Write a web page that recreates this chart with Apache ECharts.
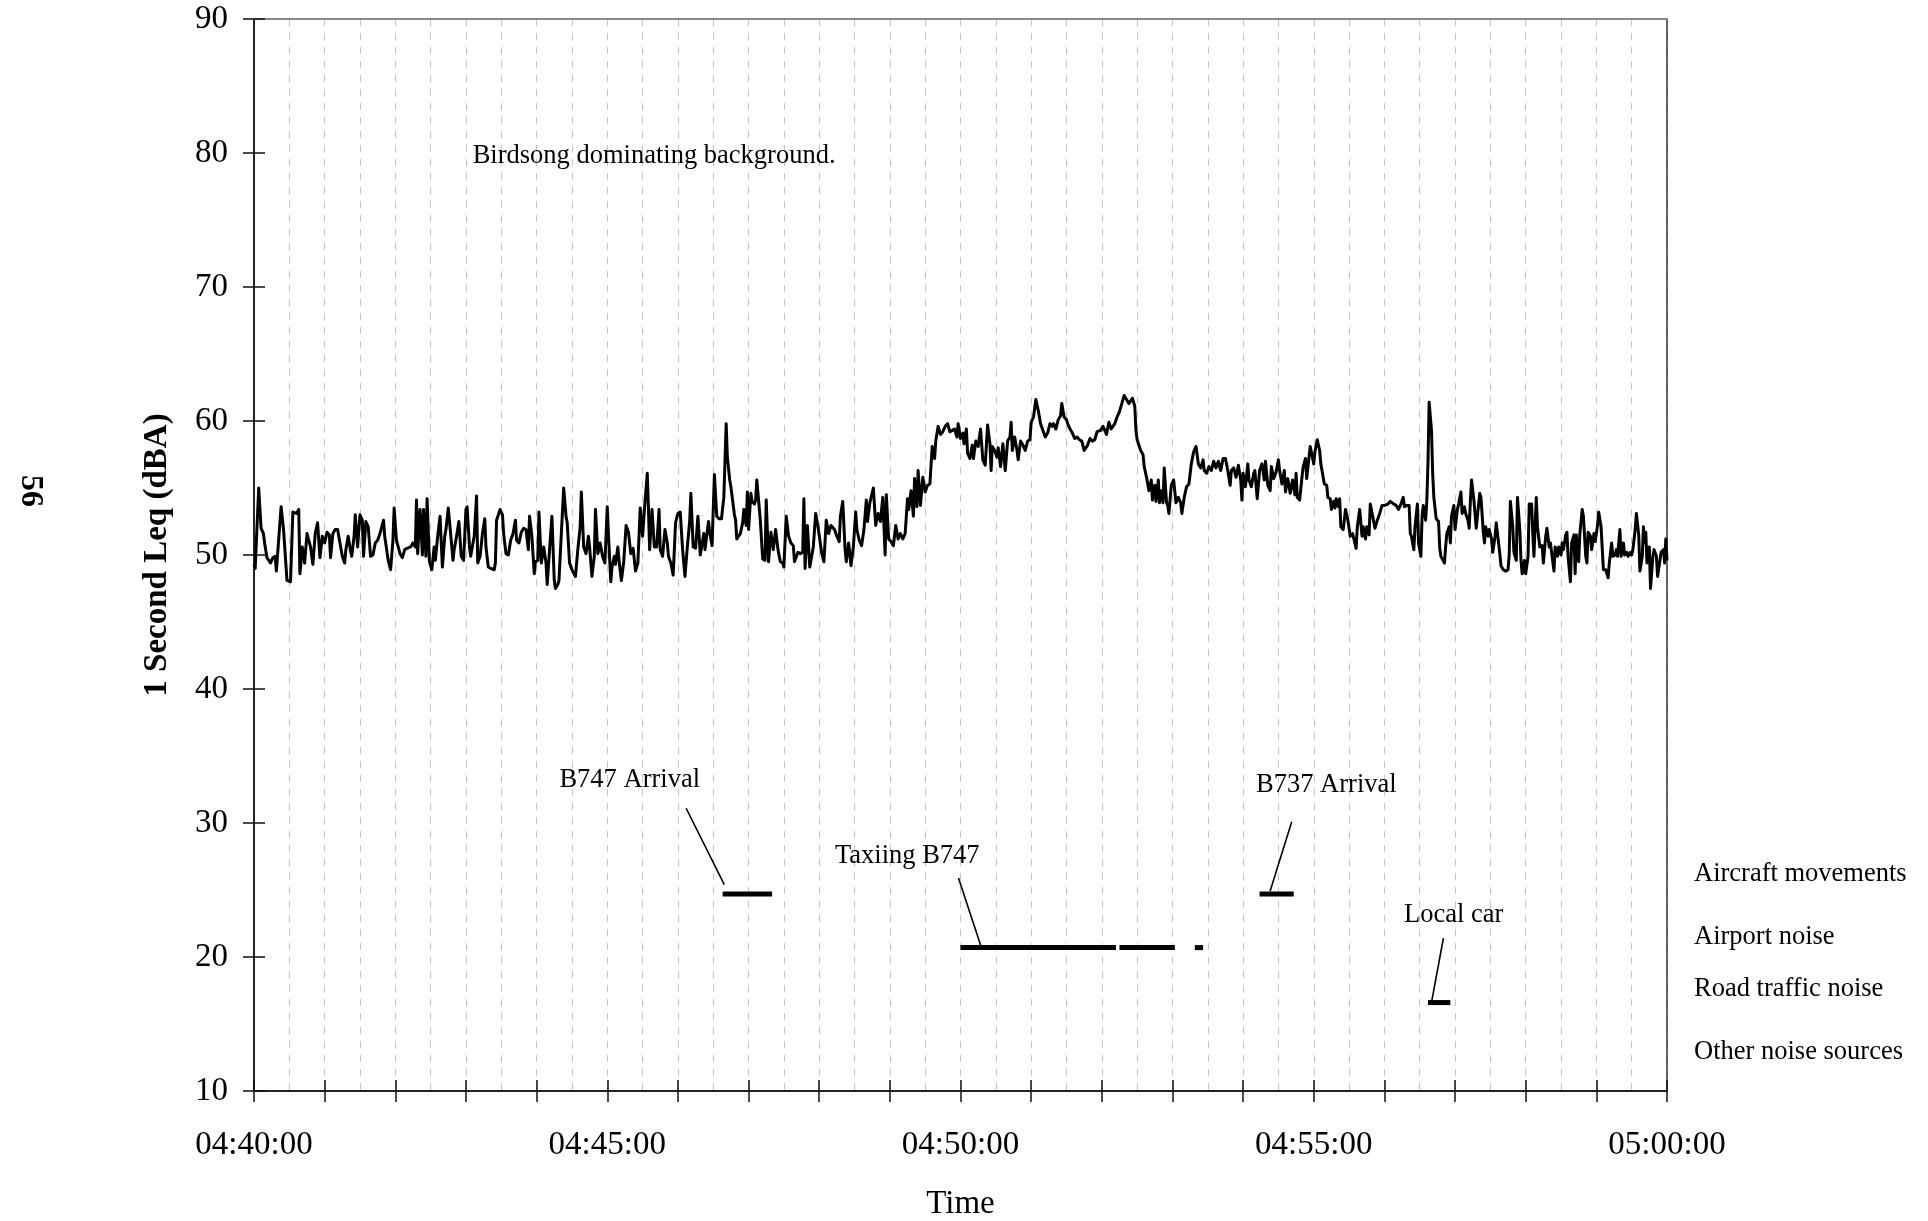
<!DOCTYPE html>
<html>
<head>
<meta charset="utf-8">
<title>1 Second Leq, 04:40 - 05:00</title>
<script src="https://cdn.jsdelivr.net/npm/echarts@6/dist/echarts.min.js"></script>
<style>
  html, body { margin: 0; padding: 0; background: #ffffff; }
  #chart { width: 1928px; height: 1221px; }
</style>
</head>
<body>
<div id="chart"></div>
<script>
// Time axis labels, one every five minutes (values are seconds after 04:40:00)
const timeLabels = ['04:40:00', '04:45:00', '04:50:00', '04:55:00', '05:00:00'];
const labelStep = 300;
const yTicks = [10, 20, 30, 40, 50, 60, 70, 80, 90];

// 1 second Leq, [seconds after 04:40:00, dBA]
const leqSamples = [
  [0,49.3],[1,49.0],[4,55.0],[6,52.0],[8,51.6],[9,50.9],[11,49.8],[14,49.4],[16,49.8],[18,49.9],
  [19,48.8],[23,53.6],[25,52.0],[28,48.1],[31,48.0],[33,53.2],[36,53.1],[38,53.4],[39,48.6],[41,50.6],
  [43,49.4],[45,51.6],[46,51.7],[48,50.6],[50,49.3],[52,51.6],[54,52.4],[56,49.8],[58,51.4],[60,50.9],
  [62,51.7],[64,51.5],[65,49.8],[67,51.6],[69,51.9],[71,51.9],[73,50.9],[75,49.9],[77,49.4],[78,50.4],
  [80,51.4],[82,50.3],[83,49.9],[85,51.4],[86,53.0],[88,50.6],[90,53.0],[92,52.6],[93,49.9],[95,52.5],
  [97,52.1],[99,49.9],[101,50.0],[103,50.9],[105,51.1],[107,51.6],[110,52.6],[111,51.4],[114,49.6],[116,48.9],
  [118,51.1],[119,53.5],[121,51.1],[124,50.1],[126,49.8],[128,50.4],[130,50.5],[133,50.6],[135,50.9],[137,50.6],
  [138,54.1],[139,50.1],[141,53.4],[143,50.0],[144,53.4],[146,49.9],[147,54.2],[149,49.5],[151,48.9],[153,50.6],
  [154,49.6],[156,51.4],[158,52.9],[160,49.1],[162,51.4],[163,51.9],[165,53.5],[167,51.6],[169,49.6],[170,50.4],
  [172,51.4],[174,52.5],[176,49.9],[178,49.6],[180,53.4],[181,53.6],[183,50.6],[184,49.9],[187,51.4],[189,54.4],
  [190,49.4],[192,49.9],[194,51.6],[196,52.7],[197,50.6],[199,49.1],[201,49.0],[204,48.9],[205,49.4],[206,52.6],
  [209,53.4],[211,53.0],[212,51.6],[214,50.1],[216,50.0],[218,51.1],[220,51.6],[222,52.6],[223,51.1],[225,50.9],
  [227,51.7],[229,52.0],[231,51.9],[233,50.4],[234,52.9],[236,51.4],[238,48.6],[239,49.5],[241,49.6],[242,53.2],
  [244,49.4],[246,50.6],[248,49.4],[249,47.8],[251,50.4],[253,52.9],[255,48.1],[256,47.5],[258,47.8],[259,48.1],
  [261,51.6],[263,55.0],[265,52.9],[266,52.4],[268,49.4],[270,48.9],[273,48.4],[275,50.4],[277,52.1],[278,54.7],
  [280,50.6],[282,50.1],[284,51.4],[285,50.6],[287,48.4],[289,49.9],[290,53.4],[292,50.1],[294,50.9],[296,49.9],
  [298,49.4],[300,53.6],[301,51.6],[303,48.0],[304,49.1],[306,49.9],[307,49.3],[309,50.6],[310,49.6],[312,48.1],
  [314,49.5],[316,52.2],[318,51.7],[320,50.1],[322,50.5],[324,48.8],[326,49.4],[328,53.5],[330,51.4],[332,53.9],
  [334,56.1],[335,53.4],[336,50.4],[338,53.4],[340,50.6],[342,50.6],[344,53.4],[345,50.4],[347,49.9],[349,51.9],
  [351,50.9],[352,49.9],[354,49.4],[356,48.5],[358,52.4],[360,53.1],[362,53.2],[364,50.4],[366,48.4],[368,50.6],
  [370,52.5],[371,54.6],[373,50.6],[375,50.5],[377,52.9],[379,50.0],[382,51.6],[383,50.4],[386,52.5],[387,51.7],
  [389,50.7],[391,56.0],[393,52.9],[395,52.7],[397,52.7],[399,54.3],[401,59.8],[402,57.3],[404,55.6],[405,55.1],
  [408,53.0],[409,52.6],[410,51.2],[413,51.6],[415,52.4],[416,53.4],[418,52.2],[419,54.7],[420,51.9],[422,54.6],
  [423,54.0],[425,53.8],[426,54.1],[427,55.6],[430,52.6],[432,49.7],[434,49.6],[435,54.1],[437,49.5],[439,51.7],
  [441,50.4],[443,51.9],[445,50.4],[447,49.5],[449,49.4],[450,49.1],[452,52.9],[454,51.4],[456,50.9],[458,50.7],
  [459,49.5],[462,50.2],[464,50.1],[466,50.2],[467,54.2],[468,49.0],[470,52.2],[472,49.1],[473,49.1],[475,50.6],
  [477,53.1],[479,52.1],[480,52.0],[482,50.2],[484,49.5],[486,52.6],[488,51.6],[490,52.2],[493,51.9],[495,51.4],
  [497,51.0],[498,52.9],[500,54.0],[502,50.4],[503,49.5],[505,50.9],[507,49.2],[509,50.6],[511,53.2],[512,51.9],
  [514,51.1],[516,50.7],[518,51.9],[520,54.1],[521,52.5],[523,53.9],[524,54.0],[526,55.0],[528,52.2],[530,53.1],
  [532,52.5],[533,53.4],[534,54.3],[536,50.0],[537,54.5],[539,51.2],[541,51.0],[543,50.7],[545,52.2],[547,51.2],
  [549,51.6],[551,51.2],[553,51.6],[555,54.2],[556,53.4],[558,54.8],[560,52.9],[561,55.7],[563,53.6],[564,56.3],
  [566,53.7],[568,55.8],[570,54.7],[572,55.2],[574,55.3],[576,58.1],[578,57.2],[579,58.5],[581,59.6],[583,59.0],
  [585,59.2],[587,59.6],[589,59.8],[591,59.2],[593,59.3],[595,59.4],[597,58.8],[598,59.8],[600,58.7],[602,59.1],
  [603,58.3],[605,59.4],[606,57.6],[608,57.2],[610,58.2],[611,57.2],[613,58.5],[615,58.1],[617,59.4],[619,57.1],
  [621,56.7],[623,59.7],[625,58.3],[626,56.3],[627,58.1],[629,57.8],[631,57.3],[632,58.0],[634,56.6],[636,58.3],
  [638,56.3],[640,58.5],[642,58.8],[643,59.9],[644,57.8],[646,58.8],[648,57.8],[649,57.1],[651,58.5],[653,58.2],
  [655,57.8],[657,58.5],[659,58.6],[660,59.9],[662,60.3],[664,61.6],[666,60.8],[668,59.8],[670,59.3],[672,58.8],
  [674,59.1],[676,59.8],[678,59.6],[679,59.8],[681,59.4],[683,60.1],[685,60.4],[686,61.3],[688,60.3],[690,60.1],
  [691,59.8],[693,59.4],[695,59.1],[697,58.7],[699,58.8],[701,58.6],[703,58.5],[705,57.8],[706,57.8],[708,58.2],
  [710,58.7],[712,58.5],[714,58.6],[716,59.2],[719,59.3],[721,59.6],[723,59.2],[724,59.0],[726,59.9],[728,59.4],
  [731,59.8],[733,60.3],[735,60.7],[737,61.3],[739,61.9],[741,61.6],[743,61.3],[744,61.4],[746,61.7],[748,61.1],
  [749,59.3],[750,58.6],[753,57.8],[755,57.5],[756,56.6],[758,55.8],[759,55.3],[760,54.8],[762,55.6],[763,54.1],
  [765,55.2],[766,54.0],[768,55.6],[769,53.9],[770,54.8],[772,53.9],[773,56.5],[775,53.9],[776,53.7],[777,53.1],
  [779,55.2],[781,55.6],[783,53.9],[785,54.3],[787,53.9],[788,53.1],[790,54.3],[792,55.1],[794,55.3],[796,56.8],
  [798,57.7],[800,58.1],[802,56.8],[804,56.5],[806,57.1],[807,56.3],[809,56.1],[811,56.6],[813,56.3],[815,57.0],
  [817,56.5],[819,57.0],[821,56.3],[823,57.2],[825,57.2],[827,56.3],[829,55.2],[830,56.3],[832,56.5],[834,55.8],
  [836,56.7],[838,55.6],[839,54.1],[840,56.1],[842,55.1],[844,56.8],[845,55.6],[847,55.1],[849,56.1],[850,56.3],
  [852,54.2],[854,56.3],[856,56.8],[858,55.6],[859,57.0],[861,55.2],[863,54.8],[864,56.6],[866,55.7],[868,56.2],
  [870,57.1],[871,56.3],[873,55.3],[875,56.3],[876,54.7],[878,55.7],[880,54.6],[882,55.6],[884,54.5],[885,56.1],
  [886,54.3],[888,54.1],[890,55.8],[891,56.6],[893,57.2],[894,55.7],[896,57.3],[897,58.1],[898,58.2],[900,56.8],
  [901,57.7],[903,58.6],[905,57.8],[906,56.8],[908,55.8],[909,55.3],[911,55.2],[912,54.3],[914,54.2],[915,53.4],
  [917,54.0],[918,53.5],[919,54.2],[921,53.6],[922,54.2],[923,52.1],[925,51.9],[927,53.4],[929,52.6],[930,52.0],
  [931,51.4],[933,51.6],[936,50.5],[937,52.1],[939,53.4],[941,51.4],[942,52.1],[944,51.2],[945,52.1],[947,51.5],
  [948,53.8],[950,52.9],[952,52.0],[953,52.1],[954,52.6],[956,53.1],[958,53.7],[960,53.7],[963,53.8],[965,54.0],
  [966,54.1],[968,53.8],[970,53.7],[972,53.4],[974,53.8],[976,54.3],[977,53.6],[979,53.7],[981,53.7],[982,51.6],
  [983,51.4],[985,50.4],[986,52.1],[988,53.8],[989,50.9],[991,49.9],[992,52.9],[993,53.7],[995,52.6],[996,54.0],
  [997,56.8],[998,61.4],[1000,59.3],[1001,56.1],[1002,54.3],[1004,52.7],[1006,52.5],[1007,50.5],[1008,49.9],[1011,49.4],
  [1012,50.6],[1013,51.6],[1015,52.1],[1016,50.9],[1017,52.9],[1019,53.7],[1020,51.9],[1022,53.4],[1023,53.8],[1025,54.7],
  [1026,53.1],[1028,53.6],[1029,53.1],[1031,52.6],[1032,52.0],[1033,54.0],[1034,55.6],[1036,54.1],[1038,52.0],[1039,52.9],
  [1041,54.6],[1042,54.3],[1044,51.7],[1045,50.9],[1046,52.1],[1048,51.4],[1049,51.9],[1051,51.2],[1052,50.2],[1054,51.4],
  [1055,52.4],[1056,52.5],[1058,50.1],[1059,49.2],[1061,48.9],[1063,48.8],[1065,48.9],[1066,50.0],[1067,54.0],[1069,52.1],
  [1070,50.2],[1072,49.6],[1073,54.3],[1075,51.9],[1076,49.6],[1077,48.6],[1079,49.6],[1080,48.6],[1082,49.9],[1083,53.8],
  [1085,53.8],[1086,51.6],[1087,49.9],[1089,54.3],[1090,52.1],[1092,50.6],[1094,50.7],[1095,49.4],[1097,51.4],[1098,52.0],
  [1100,50.6],[1101,50.9],[1102,50.2],[1104,48.8],[1105,50.6],[1107,49.9],[1108,50.6],[1110,50.0],[1111,50.9],[1112,50.4],
  [1114,51.5],[1115,51.7],[1116,49.9],[1118,48.0],[1119,50.9],[1121,51.5],[1122,48.6],[1123,51.5],[1125,49.5],[1126,51.6],
  [1128,53.4],[1129,52.9],[1131,49.9],[1132,49.4],[1133,51.7],[1135,51.4],[1136,50.4],[1138,51.6],[1139,51.0],[1141,52.2],
  [1142,53.2],[1144,52.1],[1145,52.1],[1146,48.9],[1148,48.9],[1150,48.3],[1151,49.4],[1153,50.9],[1154,49.9],[1156,50.0],
  [1157,50.4],[1158,49.9],[1160,51.9],[1161,49.9],[1163,50.9],[1164,50.0],[1166,50.2],[1167,49.9],[1169,50.2],[1170,50.0],
  [1171,50.4],[1173,51.9],[1174,53.1],[1176,51.5],[1177,48.8],[1179,49.9],[1180,52.1],[1181,50.9],[1182,51.7],[1183,49.4],
  [1185,50.6],[1186,47.5],[1188,49.9],[1189,50.4],[1191,49.9],[1192,48.4],[1194,49.6],[1195,50.2],[1197,50.4],[1198,49.4],
  [1199,51.2],[1200,49.6]
];

// Identified noise events: [start s, end s, source row level]
const eventBars = [
  [398, 440, 24.7],   // B747 arrival
  [600, 732, 20.7],   // taxiing B747
  [735, 782, 20.7],
  [799, 806, 20.7],
  [854, 883, 24.7],   // B737 arrival
  [997, 1016, 16.6]   // local car
];

// Event captions: [text, s, dBA at caption middle]
const captions = [
  ['Birdsong dominating background.', 185.7, 79.8],
  ['B747 Arrival', 259.4, 33.2],
  ['Taxiing B747', 493.4, 27.5],
  ['B737 Arrival', 851.0, 32.8],
  ['Local car', 976.6, 23.1]
];

// Pointer lines from caption to event: [s1, dBA1, s2, dBA2]
const pointers = [
  [367.0, 31.1, 399.4, 25.4],
  [598.3, 25.9, 617.4, 20.8],
  [881.3, 30.1, 862.9, 24.9],
  [1010.1, 21.4, 1000.2, 16.7]
];

// Source rows listed beside the plot: [name, dBA of row]
const sourceRows = [
  ['Aircraft movements', 26.2],
  ['Airport noise', 21.5],
  ['Road traffic noise', 17.6],
  ['Other noise sources', 12.9]
];

const serif = '"Liberation Serif", "Times New Roman", Times, serif';
const xMax = (timeLabels.length - 1) * labelStep;

const chart = echarts.init(document.getElementById('chart'), null, { renderer: 'canvas' });

const hiddenAxisParts = {
  axisLine: { show: false },
  axisTick: { show: false },
  axisLabel: { show: false },
  splitLine: { show: false }
};

const option = {
  animation: false,
  backgroundColor: '#ffffff',
  grid: {
    left: 254, right: 261, top: 19, bottom: 130,
    containLabel: false,
    outerBoundsMode: 'none'
  },
  xAxis: [
    {
      type: 'value', position: 'bottom', min: 0, max: xMax, interval: 60,
      name: 'Time', nameLocation: 'middle', nameGap: 97,
      nameTextStyle: { fontFamily: serif, fontSize: 33, color: '#000' },
      axisLine: { show: true, onZero: false, lineStyle: { color: '#222', width: 2 } },
      axisTick: { show: true, length: 11, lineStyle: { color: '#111', width: 1.5 } },
      axisLabel: {
        show: true, margin: 38, fontFamily: serif, fontSize: 33, color: '#000',
        formatter: v => {
          const s = Math.round(v);
          return s % labelStep === 0 ? timeLabels[s / labelStep] : '';
        }
      },
      splitLine: { show: false }
    },
    {
      // inward half of the minute ticks
      type: 'value', position: 'bottom', min: 0, max: xMax, interval: 60,
      ...hiddenAxisParts,
      axisLine: { show: false, onZero: false },
      axisTick: { show: true, inside: true, length: 11, lineStyle: { color: '#111', width: 1.5 } }
    },
    {
      // dashed half-minute grid
      type: 'value', position: 'bottom', min: 0, max: xMax, interval: 30,
      ...hiddenAxisParts,
      axisLine: { show: false, onZero: false },
      splitLine: { show: true, lineStyle: { color: '#c4c4c4', width: 1, type: [7, 7] } }
    },
    {
      // top frame
      type: 'value', position: 'top', min: 0, max: xMax,
      ...hiddenAxisParts,
      axisLine: { show: true, onZero: false, lineStyle: { color: '#8a8a8a', width: 2 } }
    }
  ],
  yAxis: [
    {
      type: 'value', position: 'left', min: yTicks[0], max: yTicks[yTicks.length - 1], interval: 10,
      name: '1 Second Leq (dBA)', nameLocation: 'middle', nameGap: 80,
      nameTextStyle: { fontFamily: serif, fontSize: 33, fontWeight: 'bold', color: '#000' },
      axisLine: { show: true, onZero: false, lineStyle: { color: '#222', width: 2 } },
      axisTick: { show: true, length: 11, lineStyle: { color: '#111', width: 1.5 } },
      axisLabel: { show: true, margin: 26, fontFamily: serif, fontSize: 33, color: '#000' },
      splitLine: { show: false }
    },
    {
      type: 'value', position: 'left', min: yTicks[0], max: yTicks[yTicks.length - 1], interval: 10,
      ...hiddenAxisParts,
      axisLine: { show: false, onZero: false },
      axisTick: { show: true, inside: true, length: 11, lineStyle: { color: '#111', width: 1.5 } }
    },
    {
      // right frame
      type: 'value', position: 'right', min: yTicks[0], max: yTicks[yTicks.length - 1],
      ...hiddenAxisParts,
      axisLine: { show: true, onZero: false, lineStyle: { color: '#333', width: 1.5 } }
    }
  ],
  graphic: [
    {
      type: 'text', x: 30, y: 491, rotation: -Math.PI / 2,
      style: {
        text: '56', fill: '#000',
        font: 'bold 32px ' + serif,
        align: 'center', verticalAlign: 'middle'
      }
    }
  ],
  series: [
    {
      name: '1 Second Leq',
      type: 'line',
      data: leqSamples,
      symbol: 'none',
      showSymbol: false,
      lineStyle: { color: '#000', width: 3, join: 'round' },
      z: 4
    },
    {
      name: 'Events',
      type: 'custom',
      data: eventBars,
      z: 5,
      renderItem: (params, api) => {
        const a = api.coord([api.value(0), api.value(2)]);
        const b = api.coord([api.value(1), api.value(2)]);
        return {
          type: 'line',
          shape: { x1: a[0], y1: a[1], x2: b[0], y2: b[1] },
          style: { stroke: '#000', lineWidth: 5, lineCap: 'butt' }
        };
      }
    },
    {
      name: 'Pointers',
      type: 'custom',
      data: pointers,
      z: 5,
      renderItem: (params, api) => {
        const a = api.coord([api.value(0), api.value(1)]);
        const b = api.coord([api.value(2), api.value(3)]);
        return {
          type: 'line',
          shape: { x1: a[0], y1: a[1], x2: b[0], y2: b[1] },
          style: { stroke: '#000', lineWidth: 1.6 }
        };
      }
    },
    {
      name: 'Captions',
      type: 'custom',
      data: captions.map((c, i) => [c[1], c[2], i]),
      z: 6,
      renderItem: (params, api) => {
        const p = api.coord([api.value(0), api.value(1)]);
        return {
          type: 'text',
          x: p[0], y: p[1],
          style: {
            text: captions[params.dataIndex][0],
            fill: '#000',
            font: '26.5px ' + serif,
            align: 'left', verticalAlign: 'middle'
          }
        };
      }
    },
    {
      name: 'Sources',
      type: 'custom',
      data: sourceRows.map((r, i) => [xMax, r[1], i]),
      z: 6,
      renderItem: (params, api) => {
        const p = api.coord([api.value(0), api.value(1)]);
        return {
          type: 'text',
          x: p[0] + 27, y: p[1],
          style: {
            text: sourceRows[params.dataIndex][0],
            fill: '#000',
            font: '26.5px ' + serif,
            align: 'left', verticalAlign: 'middle'
          }
        };
      }
    }
  ]
};

chart.setOption(option);
</script>
</body>
</html>
